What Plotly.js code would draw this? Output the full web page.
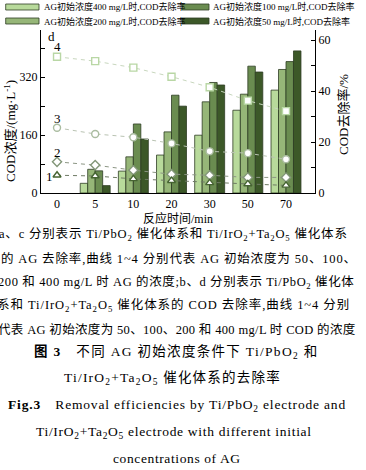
<!DOCTYPE html>
<html>
<head>
<meta charset="utf-8">
<script src="https://cdn.plot.ly/plotly-3.0.1.min.js"></script>
<style>html,body{margin:0;padding:0;background:#fff;}#chart{width:366px;height:470px;}</style>
</head>
<body>
<div id="chart"></div>
<script>
// ---- data ----
const times = ['0', '5', '10', '20', '30', '50', '70'];
// COD removal rate (%), bars (right axis)
const removal400 = [null, 3.8, 8.6, 14.9, 22.7, 32.5, 40.4];
const removal200 = [null, 9.3, 14.2, 24.0, 35.8, 38.8, 48.5];
const removal100 = [null, 8.7, 27.1, 38.4, 43.4, 49.8, 51.6];
const removal50  = [null, 2.9, 21.2, 34.1, 42.4, 47.5, 55.8];
// COD concentration (mg/L), curves 1-4 (left axis)
const cod50  = [49, 47, 39, 34, 28, 25, 21];
const cod100 = [86, 77, 63, 52, 49, 43, 43];
const cod200 = [180, 163, 154, 137, 115, 110, 93];
const cod400 = [376, 364, 346, 321, 292, 255, 226];
const legendLabels = ['AG初始浓度400 mg/L时,COD去除率', 'AG初始浓度200 mg/L时,COD去除率',
                      'AG初始浓度100 mg/L时,COD去除率', 'AG初始浓度50 mg/L时,COD去除率'];
const curveLabels = ['1', '2', '3', '4'];
const captionLines = [
  'a、c 分别表示 Ti/PbO<sub>2</sub> 催化体系和 Ti/IrO<sub>2</sub>+Ta<sub>2</sub>O<sub>5</sub> 催化体系',
  '的 AG 去除率,曲线 1~4 分别代表 AG 初始浓度为 50、100、',
  '200 和 400 mg/L 时 AG 的浓度;b、d 分别表示 Ti/PbO<sub>2</sub> 催化体',
  '系和 Ti/IrO<sub>2</sub>+Ta<sub>2</sub>O<sub>5</sub> 催化体系的 COD 去除率,曲线 1~4 分别',
  '代表 AG 初始浓度为 50、100、200 和 400 mg/L 时 COD 的浓度',
  '<b>图 3</b>\u2003不同 AG 初始浓度条件下 Ti/PbO<sub>2</sub> 和',
  'Ti/IrO<sub>2</sub>+Ta<sub>2</sub>O<sub>5</sub> 催化体系的去除率',
  '<b>Fig.3</b>\u2003Removal efficiencies by Ti/PbO<sub>2</sub> electrode and',
  'Ti/IrO<sub>2</sub>+Ta<sub>2</sub>O<sub>5</sub> electrode with different initial',
  'concentrations of AG'
];

// ---- styles ----
const FONT = 'Liberation Serif, "Noto Sans CJK SC", serif';
const barColors = ['rgb(184,218,155)', 'rgb(150,182,120)', 'rgb(106,140,80)', 'rgb(60,88,40)'];
const barLine = 'rgb(45,60,35)';

// geometry of plot area in pixels
const L = 41, R = 315, T = 30, B = 193, W = 366, H = 470;
const px = x => (x - L) / (R - L);
const py = y => (B - y) / (B - T);

function bar(vals, i) {
  return {type: 'bar', x: times, y: vals, yaxis: 'y', name: legendLabels[i],
          marker: {color: barColors[i], line: {color: barLine, width: 0.8}}, hoverinfo: 'y'};
}
function curve(vals, sym, color, lineColor) {
  return {type: 'scatter', mode: 'lines+markers', x: times, y: vals, yaxis: 'y2',
          line: {color: lineColor, width: 1, dash: '4px,4px'},
          marker: {symbol: sym, size: 7, color: 'white', line: {color: color, width: 1.4}},
          cliponaxis: false};
}

const data = [
  bar(removal400, 0), bar(removal200, 1), bar(removal100, 2), bar(removal50, 3),
  curve(cod400, 'square', 'rgb(185,215,165)', 'rgb(200,215,190)'),
  curve(cod200, 'circle', 'rgb(170,188,160)', 'rgb(185,195,178)'),
  curve(cod100, 'diamond', 'rgb(130,150,120)', 'rgb(140,150,132)'),
  curve(cod50, 'triangle-up', 'rgb(70,100,50)', 'rgb(110,122,100)')
];

const shapes = [];
const annotations = [];
function txt(text, x, y, size, anchor, extra) {
  annotations.push(Object.assign({text: text, xref: 'paper', yref: 'paper', x: px(x), y: py(y),
    xanchor: anchor || 'left', yanchor: 'middle', showarrow: false, borderpad: 0,
    font: {family: FONT, size: size, color: '#000'}}, extra || {}));
  return annotations.length - 1;
}

// manual legend (wide swatches as in reference)
const legPos = [[5.7, 39, 43, 7], [5.7, 39, 43, 21], [182, 209, 212, 7], [182, 209, 212, 21]];
legPos.forEach((p, i) => {
  shapes.push({type: 'rect', xref: 'paper', yref: 'paper', x0: px(p[0]), x1: px(p[1]),
               y0: py(p[3] - 3), y1: py(p[3] + 3),
               fillcolor: barColors[i], line: {color: barLine, width: 0.8}});
  txt(legendLabels[i], p[2], p[3], 9, 'left');
});

// panel letter and curve numbers
txt('d', 47, 37, 13, 'left');
txt(curveLabels[3], 53, 46, 13, 'left');
txt(curveLabels[2], 53, 118, 13, 'left');
txt(curveLabels[1], 53, 152, 13, 'left');
txt(curveLabels[0], 45, 176, 13, 'left');

// axis titles
txt('COD浓度/(mg·L<sup>-1</sup>)', 10, 131, 13, 'center', {textangle: -90});
txt('COD去除率/%', 343, 115, 13, 'center', {textangle: -90});

// caption: [left px, right px, centre y px, font size]
const capGeom = [
  [-2, 353, 235, 12.5], [0, 356, 258, 12.5], [-3, 355, 282, 12.5], [-4, 355, 305, 12.5],
  [-3, 355, 329, 12.5], [33, 320, 352, 13.5], [63, 287, 378, 13.5], [7, 347, 405, 13.5],
  [35, 315, 432, 13.5], [112, 240, 458, 13.5]
];
const capIdx = captionLines.map((t, i) =>
  txt(t, capGeom[i][0], capGeom[i][2], capGeom[i][3], 'left', {align: 'left'}));

const layout = {
  width: W, height: H,
  margin: {l: L, r: W - R, t: T, b: H - B, pad: 0},
  paper_bgcolor: '#fff', plot_bgcolor: '#fff',
  showlegend: false,
  barmode: 'group', bargap: 0.215, bargroupgap: 0,
  font: {family: FONT, size: 12, color: '#000'},
  xaxis: {type: 'category', range: [-0.42, 6.76], showline: true, linecolor: '#000', linewidth: 1,
          ticks: '', showgrid: false, zeroline: false, tickfont: {family: FONT, size: 12},
          title: {text: '反应时间/min', font: {family: FONT, size: 12}, standoff: 1}, automargin: false},
  yaxis: {side: 'right', range: [0, 64], tickmode: 'linear', tick0: 0, dtick: 20,
          ticks: 'inside', ticklen: 4, tickcolor: '#000', showline: true, linecolor: '#000', linewidth: 1,
          minor: {tickmode: 'linear', tick0: 0, dtick: 10, ticks: 'inside', ticklen: 4, tickcolor: '#000'},
          showgrid: false, zeroline: false, tickfont: {family: FONT, size: 12}, automargin: false},
  yaxis2: {overlaying: 'y', side: 'left', range: [0, 450], tickmode: 'linear', tick0: 0, dtick: 160,
           ticks: 'inside', ticklen: 4, tickcolor: '#000', showline: true, linecolor: '#000', linewidth: 1,
           minor: {tickmode: 'linear', tick0: 0, dtick: 80, ticks: 'inside', ticklen: 4, tickcolor: '#000'},
           showgrid: false, zeroline: false, tickfont: {family: FONT, size: 12}, automargin: false},
  shapes: shapes,
  annotations: annotations
};

Plotly.newPlot('chart', data, layout, {staticPlot: true, displayModeBar: false}).then(gd => {
  // stretch caption lines to the justified widths of the printed page
  capIdx.forEach((ai, k) => {
    const el = gd.querySelector('.annotation[data-index="' + ai + '"] .annotation-text');
    if (!el) return;
    const w = el.getBBox().width;
    const n = el.textContent.length;
    const target = capGeom[k][1] - capGeom[k][0];
    const ls = Math.max(0, (target - w) / n);
    el.style.letterSpacing = ls.toFixed(2) + 'px';
  });
});
</script>
</body>
</html>
